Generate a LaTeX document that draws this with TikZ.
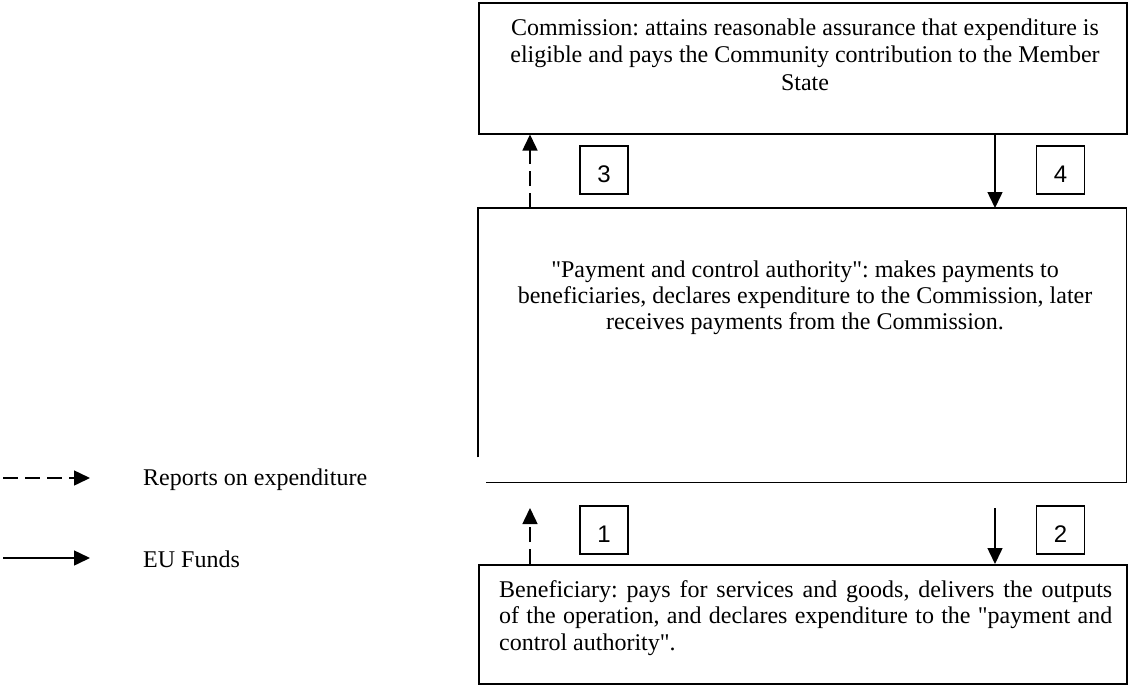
\documentclass[tikz,border=0pt]{standalone}
\usepackage{fontspec}
\setmainfont{Liberation Serif}[Ligatures=TeXOff]
\newfontfamily\numfont{Liberation Sans}
\usetikzlibrary{arrows.meta}
\frenchspacing
\begin{document}
\begin{tikzpicture}[x=1pt,y=-1pt,
  line/.style={line width=1.5pt},
  tip/.style={-{Triangle[length=16pt,width=15pt]}},
  dsh/.style={dash pattern=on 15pt off 7pt},
  box/.style={draw,line width=1.5pt,inner sep=0pt,anchor=north west},
  numbox/.style={draw,line width=1.5pt,minimum width=48pt,minimum height=48pt,inner sep=0pt,
    text height=28pt,text depth=4pt,font=\numfont\fontsize{24}{27.6}\selectfont},
  txt/.style={inner sep=0pt,font=\frenchspacing\fontsize{24}{27.6}\selectfont}]
\useasboundingbox (0,0) rectangle (1133,686);
% boxes
\node[box,minimum width=648pt,minimum height=131pt] (com) at (478,2) {};
\node[inner sep=0pt,anchor=north west,minimum width=648pt,minimum height=274pt] (pca) at (478,208) {};
\draw[line] ([yshift=25pt]pca.south west) -- (pca.north west) -- (pca.north east)
  -- (pca.south east) -- ([xshift=8pt]pca.south west);
\node[box,minimum width=648pt,minimum height=119pt] (ben) at (478,564) {};
% texts
\node[txt,anchor=base] (comt) at (805,35) {\fontsize{24}{27.5}\selectfont\parbox[t]{640pt}{\centering
  Commission: attains reasonable assurance that expenditure is\\
  eligible and pays the Community contribution to the Member\\
  State}};
\node[txt,anchor=base] (pcat) at (805,277) {\fontsize{24}{26}\selectfont\parbox[t]{640pt}{\centering
  "Payment and control authority": makes payments to\\
  beneficiaries, declares expenditure to the Commission, later\\
  receives payments from the Commission.}};
\node[txt,anchor=base west] (bent) at (499,597) {\fontsize{24}{26.5}\selectfont\parbox[t]{613pt}{%
  \makebox[613pt][s]{Beneficiary: pays for services and goods, delivers the outputs}\\
  \makebox[613pt][s]{of the operation, and declares expenditure to the "payment and}\\
  control authority".}};
% number boxes
\node[numbox] (n3) at (604,170) {3};
\node[numbox] (n4) at (1060.5,170) {4};
\node[numbox] (n1) at (604,530) {1};
\node[numbox] (n2) at (1060.5,530) {2};
% connectors
\coordinate (c3) at (530,170);
\coordinate (c4) at (995,170);
\coordinate (t1) at (530,508);
\coordinate (s2) at (995,508);
\draw[line,dsh,tip] (c3 |- pca.north) -- (c3 |- com.south);
\draw[line,tip] (c4 |- com.south) -- (c4 |- pca.north);
\draw[line,dsh,tip] (t1 |- ben.north) -- (t1);
\draw[line,tip] (s2) -- (s2 |- ben.north);
% legend
\coordinate (l1a) at (3,478);
\coordinate (l1b) at (90,478);
\coordinate (l2a) at (3,558);
\coordinate (l2b) at (90,558);
\draw[line,dsh,tip] (l1a) -- (l1b);
\draw[line,tip] (l2a) -- (l2b);
\node[txt,anchor=base west] (l1t) at (143,485) {Reports on expenditure};
\node[txt,anchor=base west] (l2t) at (143,567) {EU Funds};
\end{tikzpicture}
\end{document}
